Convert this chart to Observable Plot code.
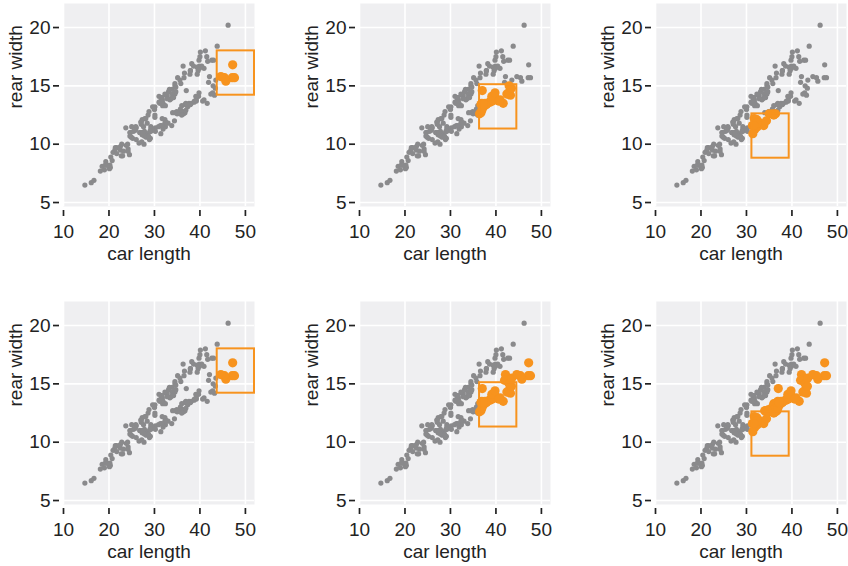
<!DOCTYPE html>
<html><head><meta charset="utf-8">
<script src="https://cdn.jsdelivr.net/npm/d3@7"></script>
<script src="https://cdn.jsdelivr.net/npm/@observablehq/plot@0.6"></script>
<style>
body{margin:0;background:#fff;}
#wrap{position:relative;width:848px;height:566px;overflow:hidden;}
#wrap svg{position:absolute;}
</style></head><body><div id="wrap"></div>
<script>
// MASS crabs: carapace length (CL) and rear width (RW), 4 groups x 50
const groups = ["B M", "B F", "O M", "O F"];
const clBM = [16.1,18.1,19.0,20.1,20.3,23.0,23.8,24.5,24.2,25.2,27.3,26.8,27.7,27.2,27.4,26.8,28.2,28.3,27.8,29.2,31.3,31.9,31.4,32.4,32.5,32.3,33.0,35.8,34.0,33.8,34.9,36.0,35.6,35.7,38.1,36.2,37.3,36.4,36.7,37.6,38.7,39.7,39.2,42.1,41.6,40.9,41.9,43.2,42.4,47.1];
const rwBM = [6.7,7.7,7.8,7.9,8.0,9.0,9.9,9.1,9.6,10.5,10.8,11.0,10.0,10.2,10.9,11.0,10.6,10.9,11.1,11.1,11.6,11.3,10.9,11.5,11.9,12.1,11.8,12.6,12.7,11.6,12.8,13.3,12.7,13.0,13.5,12.8,13.2,12.6,12.7,13.5,13.6,14.1,13.7,15.8,13.5,13.8,15.3,14.2,14.3,15.7];
const clBF = [14.7,19.3,18.5,19.2,19.6,20.4,20.9,21.3,21.7,22.5,22.5,22.8,24.7,24.6,23.7,24.9,26.0,24.6,25.4,27.1,25.9,27.1,27.3,27.6,27.9,28.4,28.6,30.0,30.1,30.1,31.7,32.8,31.8,31.9,31.7,33.9,32.6,32.4,33.4,32.8,33.9,33.6,34.5,34.5,34.2,36.6,38.2,38.6,40.9,39.6];
const rwBF = [6.5,8.5,8.1,8.2,8.2,8.9,9.3,9.5,9.7,9.5,9.8,10.0,11.0,11.0,11.4,10.6,11.4,10.7,11.1,11.9,11.5,11.7,12.1,11.5,12.2,11.8,12.5,13.0,12.5,13.2,13.8,14.2,13.3,13.5,13.8,14.3,14.2,13.3,13.8,13.9,14.7,13.9,15.0,15.2,14.0,16.1,16.9,16.7,16.5,16.3];
const clOM = [16.7,20.2,20.7,22.7,23.2,24.2,26.0,27.1,26.6,27.5,29.2,28.9,29.1,28.7,28.7,27.8,29.2,29.9,29.0,30.2,30.9,30.2,31.7,32.3,31.6,35.0,36.1,34.4,34.6,36.0,36.9,36.7,38.8,37.9,37.8,36.9,37.2,39.2,39.1,39.8,40.6,42.8,42.9,43.5,45.7,43.4,45.4,44.6,47.2,47.6];
const rwOM = [6.9,8.2,8.6,9.0,9.4,9.4,10.4,11.0,10.1,11.0,11.5,10.4,10.5,10.7,10.6,10.7,11.3,11.3,11.1,11.4,11.5,11.1,12.2,11.8,11.6,12.6,12.8,12.0,12.7,12.5,12.9,13.4,13.7,13.4,13.4,13.5,13.4,13.8,14.1,14.4,13.7,14.4,15.0,15.5,15.4,14.8,15.7,15.8,16.8,15.7];
const clOF = [21.4,21.7,24.1,25.0,25.8,27.0,28.8,28.1,29.6,30.0,30.1,31.2,31.6,31.0,31.0,31.6,31.4,31.6,32.3,33.1,34.5,34.5,33.3,34.0,34.7,37.9,35.1,35.6,36.5,37.0,34.7,35.8,36.3,37.8,37.9,39.9,39.4,40.1,40.4,39.8,39.4,40.0,41.5,39.9,43.8,41.2,41.7,42.6,43.0,46.2];
const rwOF = [9.7,9.2,10.0,11.5,11.2,11.9,12.8,12.2,13.2,13.0,12.3,13.5,14.0,14.1,13.6,13.6,13.7,14.0,14.3,14.5,14.3,14.4,14.7,14.0,14.9,16.3,15.7,15.5,15.7,14.6,14.5,15.2,16.7,16.0,16.3,16.7,16.6,17.9,16.7,17.2,16.0,17.5,17.5,16.5,18.4,18.0,17.1,17.2,17.2,20.2];
// persistent-brush stage at which each crab was painted (0 = never)
const paintBM = [0,0,0,0,0,0,0,0,0,0,0,0,0,0,0,0,0,0,0,0,3,3,3,3,3,3,3,3,3,3,3,3,3,3,2,3,2,2,2,2,2,2,2,2,2,2,2,2,2,1];
const paintBF = [0,0,0,0,0,0,0,0,0,0,0,0,0,0,0,0,0,0,0,0,0,0,0,0,0,0,0,0,0,0,0,0,0,0,0,0,0,0,0,0,0,0,0,0,0,0,0,0,0,0];
const paintOM = [0,0,0,0,0,0,0,0,0,0,0,0,0,0,0,0,0,0,0,0,0,0,3,3,3,3,3,3,3,3,2,2,2,2,2,2,2,2,2,2,2,2,2,2,1,2,1,1,1,1];
const paintOF = [0,0,0,0,0,0,0,0,0,0,0,0,0,0,0,0,0,0,0,0,0,0,0,0,0,0,0,0,0,2,0,0,0,0,0,0,0,0,0,0,0,0,0,0,0,0,0,0,0,0];
// brush rectangles (one per column)
const boxX1 = [43.8, 36.4, 31.2];
const boxX2 = [52.0, 44.6, 39.4];
const boxY1 = [14.2, 11.3, 8.8];
const boxY2 = [18.0, 15.1, 12.6];
const xTicks = [10, 20, 30, 40, 50];
const yTicks = [5, 10, 15, 20];
const xLabel = "car length", yLabel = "rear width";

const cls = [clBM, clBF, clOM, clOF], rws = [rwBM, rwBF, rwOM, rwOF], paints = [paintBM, paintBF, paintOM, paintOF];
const crabs = [];
groups.forEach((g, gi) => cls[gi].forEach((v, i) => crabs.push({group: g, cl: v, rw: rws[gi][i], paint: paints[gi][i]})));

const gray = "#8a8a8c", orange = "#f7931e", font = "'Liberation Sans', Arial, Helvetica, sans-serif";

function panel(row, col) {
  const b = {x1: boxX1[col], x2: boxX2[col], y1: boxY1[col], y2: boxY2[col]};
  const hi = row === 0
    ? d => d.cl >= b.x1 && d.cl <= b.x2 && d.rw >= b.y1 && d.rw <= b.y2
    : d => d.paint > 0 && d.paint <= col + 1;
  const on = crabs.filter(hi), off = crabs.filter(d => !hi(d));
  return Plot.plot({
    width: 256, height: 270,
    marginLeft: 63, marginRight: 2, marginTop: 3, marginBottom: 64,
    x: {domain: [10, 52]},
    y: {domain: [4.66, 22.06]},
    style: {fontFamily: font, fontSize: "19px", color: "#222", background: "transparent", overflow: "visible"},
    marks: [
      Plot.frame({fill: "#efeff1", stroke: "none"}),
      Plot.gridX({ticks: xTicks, stroke: "#fff", strokeOpacity: 1, strokeWidth: 1.6}),
      Plot.gridY({ticks: yTicks, stroke: "#fff", strokeOpacity: 1, strokeWidth: 1.6}),
      Plot.axisX({ticks: xTicks, tickSize: 6, tickPadding: 8, dy: 4, label: null, strokeWidth: 1.7, fontSize: 19}),
      Plot.axisY({ticks: yTicks, tickSize: 6, tickPadding: 3, dx: -4, label: null, strokeWidth: 1.7, fontSize: 19}),
      Plot.dot(off, {x: "cl", y: "rw", r: 2.6, fill: gray, stroke: "none"}),
      Plot.dot(on, {x: "cl", y: "rw", r: 4.6, fill: orange, stroke: "none"}),
      Plot.rect([b], {x1: "x1", x2: "x2", y1: "y1", y2: "y2", fill: "none", stroke: orange, strokeWidth: 2}),
      Plot.text([xLabel], {frameAnchor: "bottom", dx: -10, dy: 47, lineAnchor: "middle", fontSize: 19, fill: "#222"}),
      Plot.text([yLabel], {frameAnchor: "left", dx: -48, dy: 3.5, rotate: -90, lineAnchor: "middle", fontSize: 19, fill: "#222"})
    ]
  });
}

const wrap = document.getElementById("wrap");
for (let r = 0; r < 2; r++) for (let c = 0; c < 3; c++) {
  const svg = panel(r, c);
  svg.style.left = (c * 296) + "px";
  svg.style.top = (r * 298.4) + "px";
  wrap.appendChild(svg);
}
</script></body></html>
